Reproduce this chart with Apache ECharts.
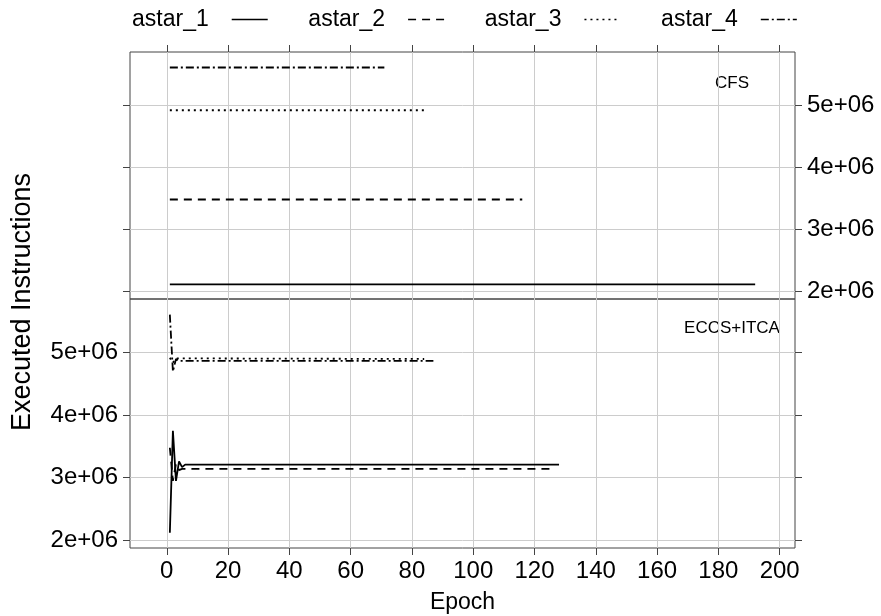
<!DOCTYPE html>
<html>
<head>
<meta charset="utf-8">
<script src="https://cdn.jsdelivr.net/npm/echarts@6/dist/echarts.min.js"></script>
<style>
  html, body { margin: 0; padding: 0; background: #fff; }
  #chart { width: 881px; height: 616px; }
</style>
</head>
<body>
<div id="chart"></div>
<script>
// series names + line dash styles
var names = ['astar_1', 'astar_2', 'astar_3', 'astar_4'];
var dashes = ['solid', [8, 6], [2, 4], [8, 3, 2, 3]];

// CFS panel: flat lines, start epoch / last epoch / level
var cfsStart = [1, 1, 1, 1];
var cfsEnd = [192, 116, 84, 71];
var cfsLevel = [2.11e6, 3.48e6, 4.92e6, 5.61e6];

// ECCS+ITCA panel: epochs and executed instructions per series
var eccsEpoch1 = [1, 2, 3, 4, 5, 6, 128];
var eccsValue1 = [2.12e6, 3.75e6, 2.95e6, 3.26e6, 3.17e6, 3.21e6, 3.21e6];
var eccsEpoch2 = [1, 2, 3, 4, 5, 126];
var eccsValue2 = [3.48e6, 2.95e6, 3.22e6, 3.12e6, 3.14e6, 3.14e6];
var eccsEpoch3 = [1, 2, 3, 84];
var eccsValue3 = [4.92e6, 4.84e6, 4.91e6, 4.9e6];
var eccsEpoch4 = [1, 2, 3, 4, 87];
var eccsValue4 = [5.61e6, 4.7e6, 4.9e6, 4.87e6, 4.87e6];

var xTicks = [0, 20, 40, 60, 80, 100, 120, 140, 160, 180, 200];
var yTicks = [2e6, 3e6, 4e6, 5e6];

var FONT = "'Liberation Sans', Arial, Helvetica, sans-serif";

function fmtY(v) {
  return (v / 1e6) + 'e+06';
}
function pairs(xs, ys) {
  return xs.map(function (x, i) { return [x, ys[i]]; });
}

var chart = echarts.init(document.getElementById('chart'), null, { renderer: 'canvas' });

var gridLine = { show: true, lineStyle: { color: '#cccccc', width: 1 } };
var tickStyle = { color: '#444', width: 1 };

function xAxis(grid, pos, labels) {
  return {
    type: 'value', gridIndex: grid, position: pos,
    min: -12, max: 205, splitNumber: 10,
    axisLine: { show: false, onZero: false },
    axisTick: { show: true, length: 7, lineStyle: tickStyle, customValues: xTicks },
    axisLabel: { show: labels, margin: 11, fontSize: 24, color: '#000', fontFamily: FONT, customValues: xTicks },
    splitLine: gridLine
  };
}
function yAxis(grid, pos, labels, split) {
  return {
    type: 'value', gridIndex: grid, position: pos,
    min: 1.875e6, max: 5.86e6, splitNumber: 4,
    axisLine: { show: false, onZero: false },
    axisTick: { show: true, length: 7, lineStyle: tickStyle, customValues: yTicks },
    axisLabel: { show: labels, margin: 12, fontSize: 24, color: '#000', fontFamily: FONT,
                 formatter: fmtY, customValues: yTicks },
    splitLine: split ? gridLine : { show: false }
  };
}

var series = [];
names.forEach(function (n, i) {
  series.push({
    name: n, type: 'line', xAxisIndex: 0, yAxisIndex: 0,
    data: [[cfsStart[i], cfsLevel[i]], [cfsEnd[i], cfsLevel[i]]],
    symbol: 'none', animation: false,
    lineStyle: { color: '#000', width: 1.8, type: dashes[i] }
  });
});
var eccs = [pairs(eccsEpoch1, eccsValue1), pairs(eccsEpoch2, eccsValue2),
            pairs(eccsEpoch3, eccsValue3), pairs(eccsEpoch4, eccsValue4)];
names.forEach(function (n, i) {
  series.push({
    name: n, type: 'line', xAxisIndex: 1, yAxisIndex: 2,
    data: eccs[i], symbol: 'none', animation: false,
    lineStyle: { color: '#000', width: 1.8, type: dashes[i] }
  });
});

var option = {
  backgroundColor: '#fff',
  animation: false,
  legend: {
    left: 127, top: 3, orient: 'horizontal',
    itemGap: 40, itemWidth: 36, itemHeight: 14,
    align: 'right',
    textStyle: { fontSize: 23, color: '#000', fontFamily: FONT, padding: [0, 18, 0, 0] },
    data: names.map(function (n, i) {
      return {
        name: n,
        itemStyle: { color: 'rgba(0,0,0,0)', borderWidth: 0, opacity: 0 },
        lineStyle: { color: '#000', width: 1.3, type: dashes[i] }
      };
    })
  },
  grid: [
    { left: 130, top: 52, width: 665, height: 247, show: true, borderColor: '#444', borderWidth: 1,
      containLabel: false, outerBoundsMode: 'none' },
    { left: 130, top: 299, width: 665, height: 249, show: true, borderColor: '#444', borderWidth: 1,
      containLabel: false, outerBoundsMode: 'none' }
  ],
  xAxis: [
    xAxis(0, 'top', false),
    Object.assign(xAxis(1, 'bottom', true), {
      name: 'Epoch', nameLocation: 'middle', nameGap: 43,
      nameTextStyle: { fontSize: 23, color: '#000', fontFamily: FONT }
    })
  ],
  yAxis: [
    yAxis(0, 'right', true, true),
    yAxis(0, 'left', false, false),
    yAxis(1, 'left', true, true),
    yAxis(1, 'right', false, false)
  ],
  graphic: [
    { type: 'text', x: 732, y: 83,
      style: { text: 'CFS', fontSize: 17, fill: '#000', fontFamily: FONT, align: 'center', verticalAlign: 'middle' } },
    { type: 'text', x: 732, y: 328,
      style: { text: 'ECCS+ITCA', fontSize: 17, fill: '#000', fontFamily: FONT, align: 'center', verticalAlign: 'middle' } },
    { type: 'text', x: 23, y: 302, rotation: Math.PI / 2,
      style: { text: 'Executed Instructions', fontSize: 27, fill: '#000', fontFamily: FONT,
               align: 'center', verticalAlign: 'middle' } }
  ],
  series: series
};

chart.setOption(option);
</script>
</body>
</html>
